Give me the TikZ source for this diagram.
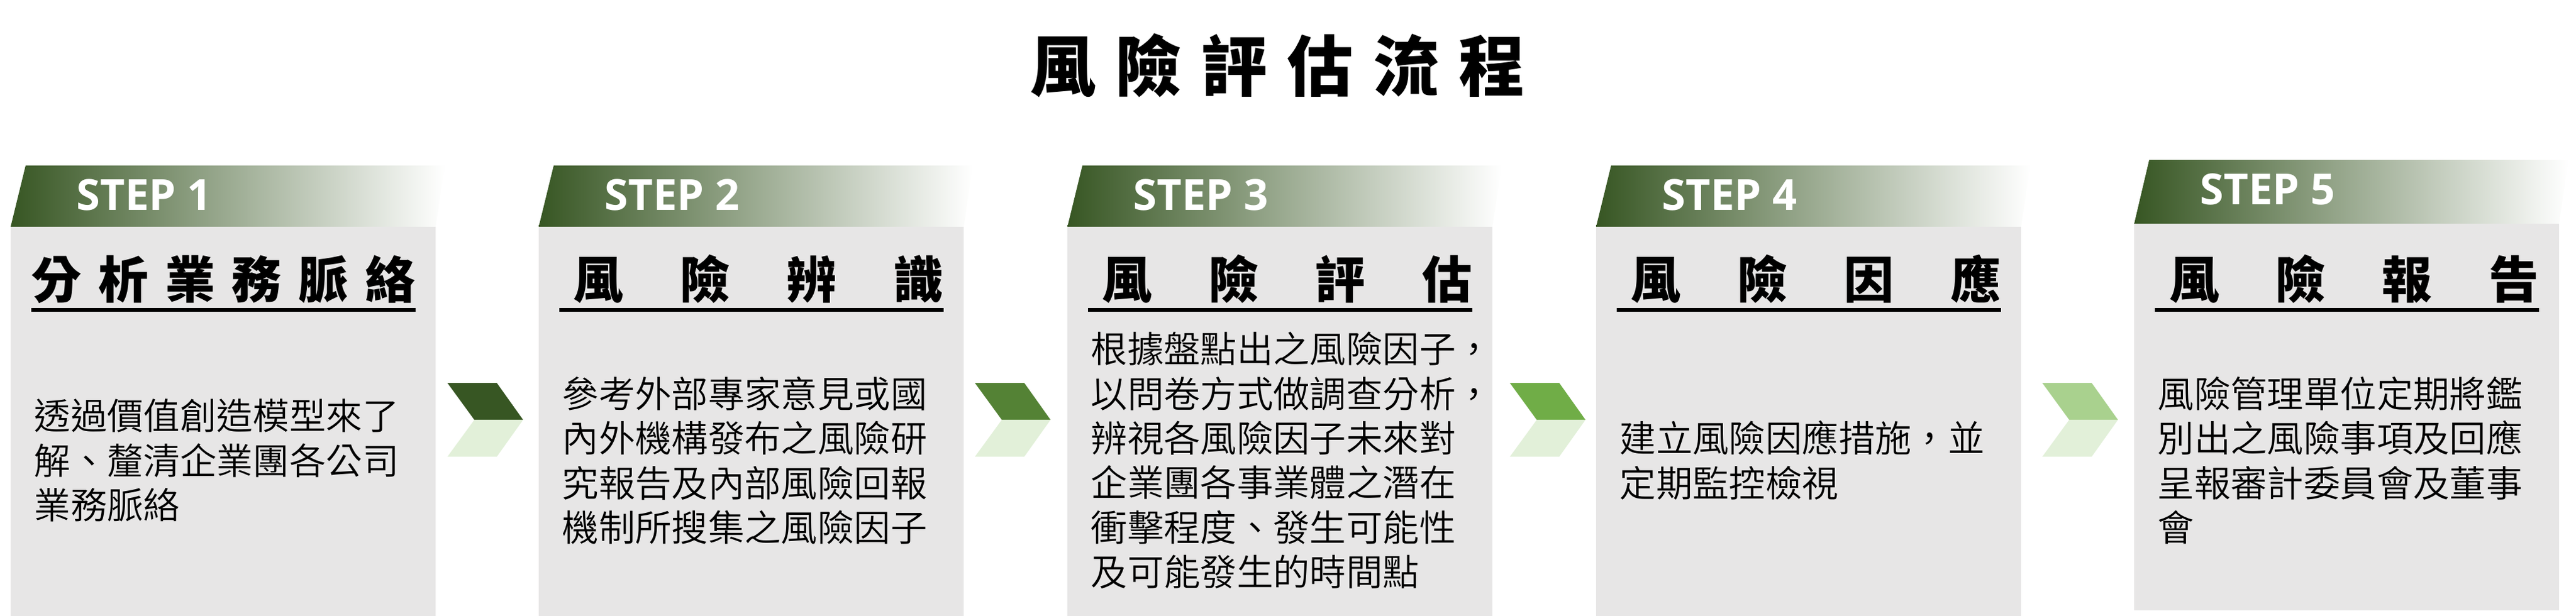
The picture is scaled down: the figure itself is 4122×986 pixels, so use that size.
\documentclass[tikz,border=0pt]{standalone}
\usepackage{fontspec}
\setmainfont{Open Sans}
\newfontfamily\cjk{Noto Sans CJK TC}
\newfontfamily\cjklight{Noto Sans CJK TC DemiLight}
\definecolor{stepdark}{HTML}{375623}
\definecolor{boxgray}{HTML}{E7E6E6}
\definecolor{chevlight}{HTML}{E2F0D9}
\tikzset{
  steplabel/.style={anchor=base west, inner sep=0pt, text=white, font=\bfseries\fontsize{19.5pt}{21pt}\selectfont},
  boxtitle/.style={anchor=west, inner sep=0pt, font=\cjk\bfseries\fontsize{22.8pt}{24pt}\selectfont},
  boxtext/.style={anchor=west, inner sep=0pt, align=left, font=\cjklight\fontsize{16.6pt}{20.3pt}\selectfont},
}
\begin{document}
\begin{tikzpicture}[x=0.01cm,y=-0.01cm]
\useasboundingbox (0,0) rectangle (4122,986);
\node[inner sep=0pt, font=\cjk\bfseries\fontsize{30pt}{32pt}\selectfont] (title) at (2044,105)
  {\makebox[7.91cm][s]{風\hfill 險\hfill 評\hfill 估\hfill 流\hfill 程}};
% gray boxes and gradient headers: left / header top / header bottom / box bottom
\foreach \L/\T/\H/\B/\n in {17/265/363/986/1,862/265/363/986/2,1708/265/363/986/3,2554/265/363/986/4,3415/256/358/977/5}{
  \fill[boxgray] (\L,\H) rectangle (\L+680,\B);
  \shade[left color=stepdark, right color=white] (\L,\H) -- (\L+24,\T) -- (\L+695,\T) -- (\L+680,\H) -- cycle;
  \node[steplabel] (step\n) at (\L+105,\T+72) {STEP \n};
  \draw[line width=1.45pt] (\L+33,496) -- (\L+648,496);
}
% box titles, spread over the underline
\foreach \L/\w/\n/\texto in {17/6.13cm/1/{分\hfill 析\hfill 業\hfill 務\hfill 脈\hfill 絡},
  862/5.91cm/2/{風\hfill 險\hfill 辨\hfill 識},
  1708/5.91cm/3/{風\hfill 險\hfill 評\hfill 估},
  2554/5.91cm/4/{風\hfill 險\hfill 因\hfill 應},
  3415/5.91cm/5/{風\hfill 險\hfill 報\hfill 告}}
\node[boxtitle] (head\n) at (\L+648,447) [anchor=east] {\makebox[\w][s]{\texto}};
% body texts
\foreach \L/\n/\texto in {17/1/{透過價值創造模型來了\\解、釐清企業團各公司\\業務脈絡},
  862/2/{參考外部專家意見或國\\內外機構發布之風險研\\究報告及內部風險回報\\機制所搜集之風險因子},
  1708/3/{根據盤點出之風險因子，\\以問卷方式做調查分析，\\辨視各風險因子未來對\\企業團各事業體之潛在\\衝擊程度、發生可能性\\及可能發生的時間點},
  2554/4/{建立風險因應措施，並\\定期監控檢視},
  3415/5/{風險管理單位定期將鑑\\別出之風險事項及回應\\呈報審計委員會及董事\\會}}
\node[boxtext] (text\n) at (\L+37,737) {\texto};
% chevrons between the boxes
\foreach \c/\col/\n in {716/375623/1,1560/548235/2,2416/70AD47/3,3268/A9D18E/4}{
  \definecolor{chev}{HTML}{\col}
  \fill[chev] (\c,613) -- (\c+79,613) -- (\c+121,672) -- (\c+43,672) -- cycle;
  \fill[chevlight] (\c+43,672) -- (\c+121,672) -- (\c+79,731) -- (\c,731) -- cycle;
}
\end{tikzpicture}
\end{document}
